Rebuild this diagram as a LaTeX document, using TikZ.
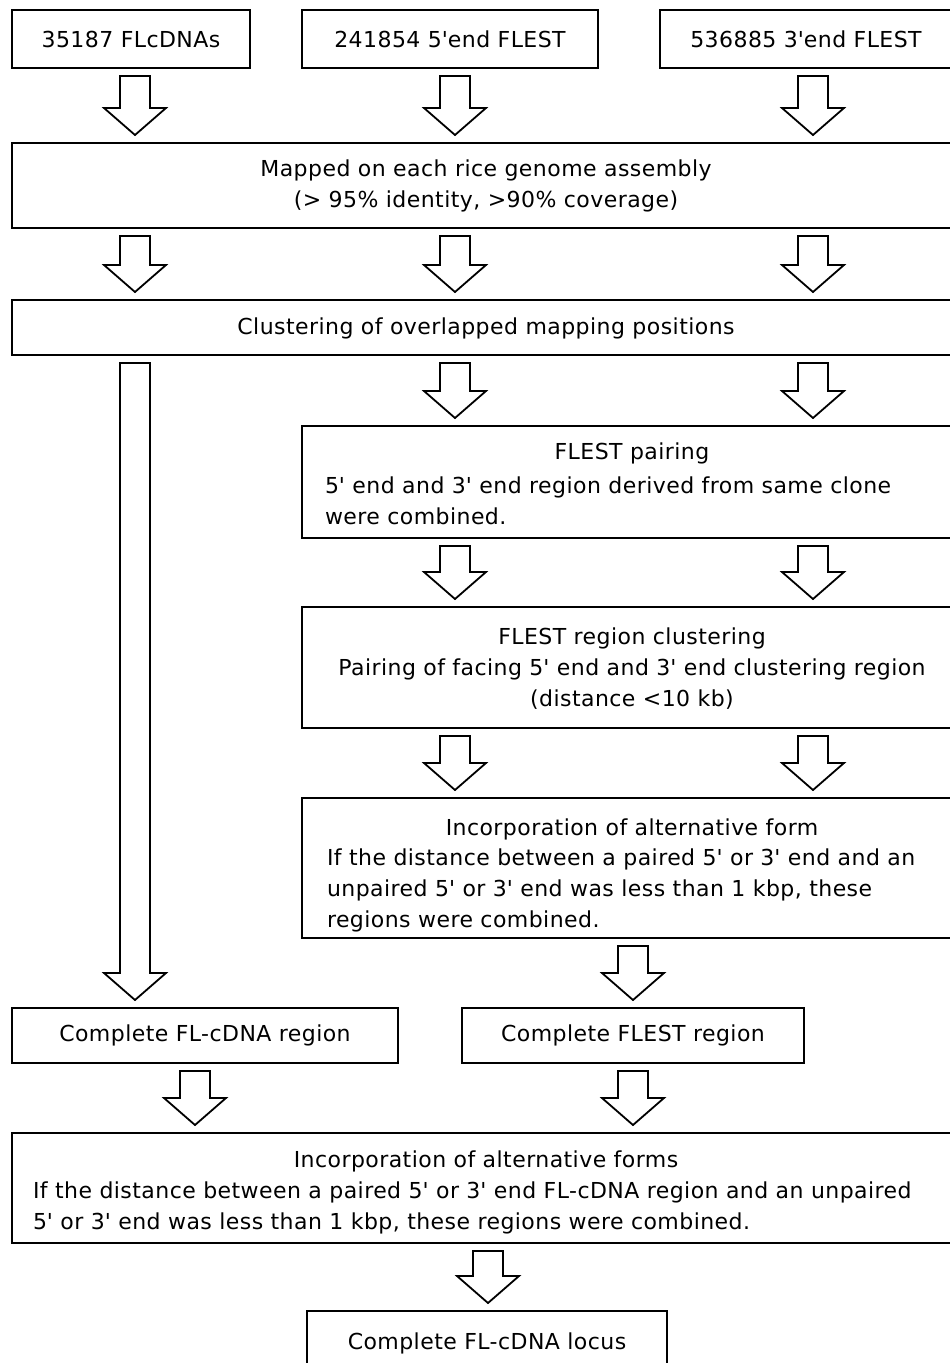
\documentclass[tikz,border=0pt]{standalone}
\usepackage{fontspec}
\setmainfont{DejaVu Sans}[LetterSpace=2]
\usetikzlibrary{calc}
\newcommand\q{\textquotesingle}
\tikzset{
  box/.style={draw=black, line width=1.8pt, rectangle, outer sep=0pt, inner sep=0pt,
              anchor=north west, font=\fontsize{22}{31}\selectfont},
  txt/.style={font=\fontsize{22}{31}\selectfont, inner sep=0pt, outer sep=0pt},
  blkarrow/.style={draw=black, line width=1.8pt, fill=white, line join=miter},
}
% hollow block arrow: x centre, source node, target node
\newcommand\blk[3]{%
  \draw[blkarrow] let \p1=(#2.south), \p2=(#3.north) in
    (#1pt-15pt,\y1-8pt) -- (#1pt+15pt,\y1-8pt) -- (#1pt+15pt,\y2+35pt)
    -- (#1pt+31pt,\y2+35pt) -- (#1pt,\y2+8pt) -- (#1pt-31pt,\y2+35pt)
    -- (#1pt-15pt,\y2+35pt) -- cycle;}
\begin{document}
\begin{tikzpicture}[x=1pt,y=-1pt]
\fill[white] (0,0) rectangle (950,1363);
\useasboundingbox (0,0) rectangle (950,1363);

% boxes
\node[box, minimum width=238, minimum height=58] (b1) at (12,10) {35187 FLcDNAs};
\node[box, minimum width=296, minimum height=58] (b2) at (302,10) {241854 5\q end FLEST};
\node[box, minimum width=292, minimum height=58] (b3) at (660,10) {536885 3\q end FLEST};
\node[box, minimum width=950, minimum height=85] (map) at (12,143) {};
\node[box, minimum width=950, minimum height=55] (clus) at (12,300) {};
\node[box, minimum width=660, minimum height=112] (pair) at (302,426) {};
\node[box, minimum width=660, minimum height=121] (rclus) at (302,607) {};
\node[box, minimum width=660, minimum height=140] (inc) at (302,798) {};
\node[box, minimum width=386, minimum height=55] (cfl) at (12,1008) {Complete FL-cDNA region};
\node[box, minimum width=342, minimum height=55] (cfest) at (462,1008) {Complete FLEST region};
\node[box, minimum width=950, minimum height=110] (big) at (12,1133) {};
\node[box, minimum width=360, minimum height=64] (loc) at (307,1311) {Complete FL-cDNA locus};

% texts
\node[txt, align=center] (tmap) at (486,186) {Mapped on each rice genome assembly\\(> 95\% identity, >90\% coverage)};
\node[txt] (tclus) at (486,328) {Clustering of overlapped mapping positions};
\node[txt] (tpair) at (632,453) {FLEST pairing};
\node[txt, align=left, anchor=west] (bpair) at (325,501) {5\q{} end and 3\q{} end region derived from same clone\\were combined.};
\node[txt, align=center] (trclus) at (632,669) {FLEST region clustering\\Pairing of facing 5\q{} end and 3\q{} end clustering region\\(distance <10 kb)};
\node[txt] (tinc) at (632,829) {Incorporation of alternative form};
\node[txt, align=left, anchor=west] (binc) at (327,890) {If the distance between a paired 5\q{} or 3\q{} end and an\\unpaired 5\q{} or 3\q{} end was less than 1 kbp, these\\regions were combined.};
\node[txt] (tbig) at (486,1161) {Incorporation of alternative forms};
\node[txt, align=left, anchor=west] (bbig) at (33,1208) {If the distance between a paired 5\q{} or 3\q{} end FL-cDNA region and an unpaired\\5\q{} or 3\q{} end was less than 1 kbp, these regions were combined.};

% block arrows
\blk{135}{b1}{map}
\blk{455}{b2}{map}
\blk{813}{b3}{map}
\blk{135}{map}{clus}
\blk{455}{map}{clus}
\blk{813}{map}{clus}
\blk{135}{clus}{cfl}
\blk{455}{clus}{pair}
\blk{813}{clus}{pair}
\blk{455}{pair}{rclus}
\blk{813}{pair}{rclus}
\blk{455}{rclus}{inc}
\blk{813}{rclus}{inc}
\blk{633}{inc}{cfest}
\blk{195}{cfl}{big}
\blk{633}{cfest}{big}
\blk{488}{big}{loc}
\end{tikzpicture}
\end{document}
